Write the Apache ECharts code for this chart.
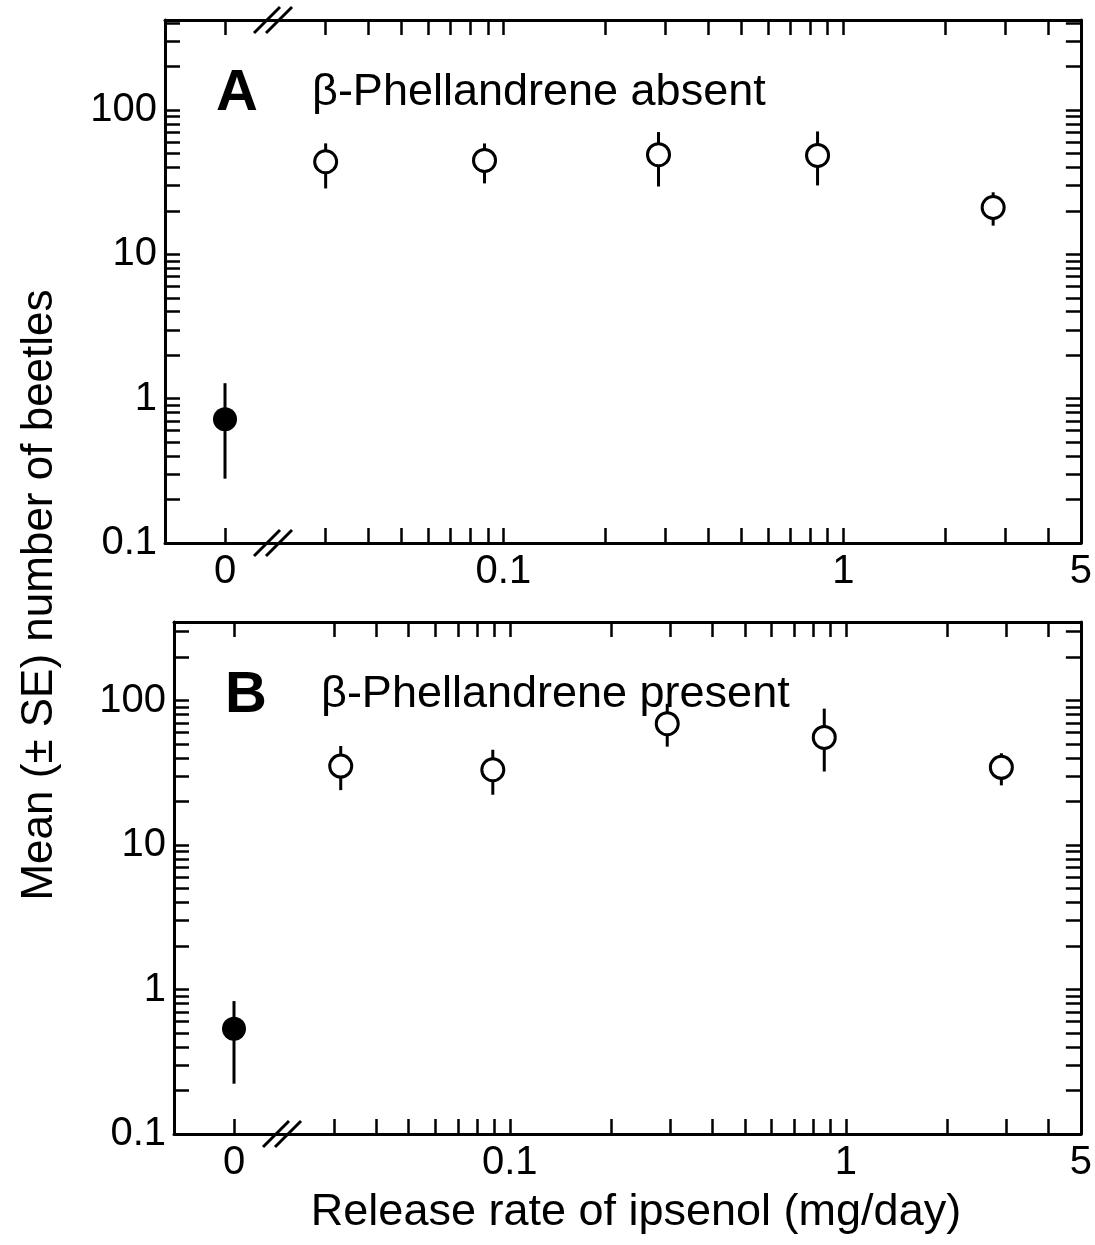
<!DOCTYPE html>
<html>
<head>
<meta charset="utf-8">
<script src="https://cdn.jsdelivr.net/npm/echarts@6/dist/echarts.min.js"></script>
<style>
html,body{margin:0;padding:0;background:#fff;}
#chart{width:1095px;height:1245px;}
</style>
</head>
<body>
<div id="chart"></div>
<script>
// ---------------- data ----------------
// release rates (mg/day), log-scale part of the x axis
const rateA = [0.030, 0.088, 0.286, 0.84, 2.76];
const meanA = [43.8, 44.7, 49.0, 48.4, 21.1];
const lowA  = [28.6, 31.0, 29.5, 30.0, 15.8];
const highA = [58.7, 58.6, 70.3, 71.0, 26.9];
// control (0 mg/day)
const zeroMeanA = [0.72];
const zeroLowA  = [0.279];
const zeroHighA = [1.28];

const rateB = [0.0314, 0.089, 0.294, 0.862, 2.9];
const meanB = [35.2, 33.2, 69.2, 55.6, 34.5];
const lowB  = [24.0, 22.3, 48.0, 32.3, 25.9];
const highB = [48.5, 45.7, 95.0, 88.0, 43.2];
const zeroMeanB = [0.535];
const zeroLowB  = [0.223];
const zeroHighB = [0.832];

// axis ticks / labels
const yTickValues = [0.1,0.2,0.3,0.4,0.5,0.6,0.7,0.8,0.9,
                     1,2,3,4,5,6,7,8,9,
                     10,20,30,40,50,60,70,80,90,
                     100,200,300,400];
const yLabelValues = [0.1, 1, 10, 100];
const xTickValues = [0.03,0.04,0.05,0.06,0.07,0.08,0.09,
                     0.1,0.2,0.3,0.4,0.5,0.6,0.7,0.8,0.9,
                     1,2,3,4];
const xLabelValues = [0.1, 1, 5];
const zeroTick = [0];
const zeroLabel = [0];

const panelTitles = ['β-Phellandrene absent', 'β-Phellandrene present'];
const panelLetters = ['A', 'B'];
const yTitle = 'Mean (± SE) number of beetles';
const xTitle = 'Release rate of ipsenol (mg/day)';

// ---------------- layout ----------------
const FONT = 'Liberation Sans, Arial, Helvetica, sans-serif';
const panels = [
  {left:165, brk:273, right:1083, top:20,  bottom:543, ymax:420, breakTop:true},
  {left:174, brk:282, right:1089, top:622, bottom:1134, ymax:350, breakTop:false}
];
const XMIN_LOG = 0.021, XMAX_LOG = 5;
const ZMIN = -1, ZMAX = 0.8;

const lineStyle = {color:'#000', width:3};
const tickStyle = {color:'#000', width:2.5};
const LABEL_SIZE = 40;

const grids = [], xAxes = [], yAxes = [], series = [], graphics = [];

function errRender(params, api){
  const x = api.value(0), lo = api.value(1), hi = api.value(2);
  const p1 = api.coord([x, lo]), p2 = api.coord([x, hi]);
  return {type:'line', shape:{x1:p1[0], y1:p1[1], x2:p2[0], y2:p2[1]},
          style:{stroke:'#000', lineWidth:3}};
}

const dataSets = [
  {rate:rateA, mean:meanA, low:lowA, high:highA, zm:zeroMeanA, zl:zeroLowA, zh:zeroHighA},
  {rate:rateB, mean:meanB, low:lowB, high:highB, zm:zeroMeanB, zl:zeroLowB, zh:zeroHighB}
];

panels.forEach((p, i) => {
  const gL = grids.length, gR = gL + 1;
  const h = p.bottom - p.top;
  grids.push({left:p.left, top:p.top, width:p.brk - p.left, height:h});
  grids.push({left:p.brk, top:p.top, width:p.right - p.brk, height:h});

  const yTicks = yTickValues.filter(v => v <= p.ymax);

  // left (zero) segment x axes
  const xLb = xAxes.length;
  xAxes.push({gridIndex:gL, type:'value', position:'bottom', min:ZMIN, max:ZMAX,
    axisLine:{show:true, onZero:false, lineStyle:lineStyle},
    axisTick:{show:true, inside:true, length:15, lineStyle:tickStyle, customValues:zeroTick},
    axisLabel:{show:true, customValues:zeroLabel, fontSize:LABEL_SIZE, color:'#000', fontFamily:FONT, margin:9},
    splitLine:{show:false}});
  xAxes.push({gridIndex:gL, type:'value', position:'top', min:ZMIN, max:ZMAX,
    axisLine:{show:true, onZero:false, lineStyle:lineStyle},
    axisTick:{show:true, inside:true, length:15, lineStyle:tickStyle, customValues:zeroTick},
    axisLabel:{show:false}, splitLine:{show:false}});
  // log segment x axes
  const xRb = xAxes.length;
  xAxes.push({gridIndex:gR, type:'log', position:'bottom', min:XMIN_LOG, max:XMAX_LOG,
    axisLine:{show:true, onZero:false, lineStyle:lineStyle},
    axisTick:{show:true, inside:true, length:15, lineStyle:tickStyle, customValues:xTickValues},
    axisLabel:{show:true, customValues:xLabelValues, fontSize:LABEL_SIZE, color:'#000', fontFamily:FONT, margin:9,
      formatter: v => String(+(+v).toPrecision(6))},
    splitLine:{show:false}, minorTick:{show:false}});
  xAxes.push({gridIndex:gR, type:'log', position:'top', min:XMIN_LOG, max:XMAX_LOG,
    axisLine:{show:true, onZero:false, lineStyle:lineStyle},
    axisTick:{show:true, inside:true, length:15, lineStyle:tickStyle, customValues:xTickValues},
    axisLabel:{show:false}, splitLine:{show:false}});

  const yL = yAxes.length;
  yAxes.push({gridIndex:gL, type:'log', position:'left', min:0.1, max:p.ymax,
    axisLine:{show:true, onZero:false, lineStyle:lineStyle},
    axisTick:{show:true, inside:true, length:15, lineStyle:tickStyle, customValues:yTicks},
    axisLabel:{show:true, customValues:yLabelValues, fontSize:LABEL_SIZE, color:'#000', fontFamily:FONT, margin:8,
      formatter: v => String(+(+v).toPrecision(6))},
    splitLine:{show:false}});
  const yR = yAxes.length;
  yAxes.push({gridIndex:gR, type:'log', position:'right', min:0.1, max:p.ymax,
    axisLine:{show:true, onZero:false, lineStyle:lineStyle},
    axisTick:{show:true, inside:true, length:15, lineStyle:tickStyle, customValues:yTicks},
    axisLabel:{show:false}, splitLine:{show:false}});

  const d = dataSets[i];
  const errData = d.rate.map((r, k) => [r, d.low[k], d.high[k]]);
  const ptData = d.rate.map((r, k) => [r, d.mean[k]]);
  const zErr = d.zm.map((m, k) => [0, d.zl[k], d.zh[k]]);
  const zPt = d.zm.map(m => [0, m]);

  series.push({type:'custom', xAxisIndex:xRb, yAxisIndex:yR, renderItem:errRender,
    encode:{x:0, y:[1,2]}, data:errData, z:2, silent:true, clip:false});
  series.push({type:'scatter', xAxisIndex:xRb, yAxisIndex:yR, data:ptData, symbol:'circle',
    symbolSize:22, itemStyle:{color:'#fff', borderColor:'#000', borderWidth:3, opacity:1}, z:3, silent:true});
  series.push({type:'custom', xAxisIndex:xLb, yAxisIndex:yL, renderItem:errRender,
    encode:{x:0, y:[1,2]}, data:zErr, z:2, silent:true, clip:false});
  series.push({type:'scatter', xAxisIndex:xLb, yAxisIndex:yL, data:zPt, symbol:'circle',
    symbolSize:24, itemStyle:{color:'#000', opacity:1}, z:3, silent:true});

  // break marks "//"
  const marks = [p.bottom];
  if (p.breakTop) marks.push(p.top);
  marks.forEach(yy => {
    [-6, 6].forEach(dx => {
      graphics.push({type:'line', shape:{x1:p.brk + dx - 13, y1:yy + 13, x2:p.brk + dx + 13, y2:yy - 13},
        style:{stroke:'#000', lineWidth:3}, z:10});
    });
  });

  // panel letter and title
  graphics.push({type:'text', x:p.left + 72, y:p.top + 74, z:10,
    style:{text:panelLetters[i], font:'bold 58px ' + FONT, fill:'#000', align:'center', verticalAlign:'middle'}});
  graphics.push({type:'text', x:p.left + 147, y:p.top + 73, z:10,
    style:{text:panelTitles[i], font:'45px ' + FONT, fill:'#000', align:'left', verticalAlign:'middle'}});
});

graphics.push({type:'text', x:40, y:595, rotation:Math.PI/2, z:10,
  style:{text:yTitle, font:'44px ' + FONT, fill:'#000', align:'center', verticalAlign:'middle'}});
graphics.push({type:'text', x:636, y:1213, z:10,
  style:{text:xTitle, font:'45px ' + FONT, fill:'#000', align:'center', verticalAlign:'middle'}});

const chart = echarts.init(document.getElementById('chart'), null, {renderer:'canvas'});
chart.setOption({
  backgroundColor:'#fff',
  animation:false,
  grid:grids, xAxis:xAxes, yAxis:yAxes, series:series,
  graphic:{elements:graphics}
});
</script>
</body>
</html>
